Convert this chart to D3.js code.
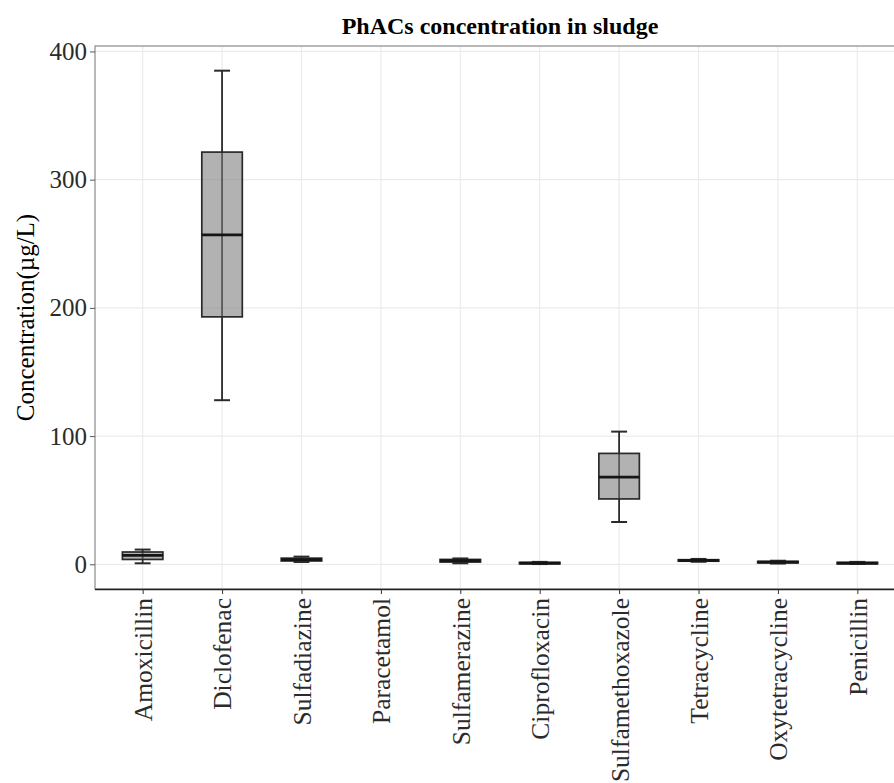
<!DOCTYPE html>
<html>
<head>
<meta charset="utf-8">
<script src="https://cdn.jsdelivr.net/npm/d3@7"></script>
<style>
  html, body { margin: 0; padding: 0; background: #fff; }
  svg { display: block; font-family: "Liberation Serif", "Times New Roman", serif; }
</style>
</head>
<body>
<svg id="chart" width="894" height="783"></svg>
<script>
// Compounds measured in sludge (Paracetamol has no measurements)
const categories = ["Amoxicillin", "Diclofenac", "Sulfadiazine", "Paracetamol", "Sulfamerazine",
                    "Ciprofloxacin", "Sulfamethoxazole", "Tetracycline", "Oxytetracycline", "Penicillin"];
// Five-number summaries, µg/L
const whiskerLow  = [0.8, 128,  1.8, null, 0.8, 0.2, 33,  2.0, 0.6, 0.3];
const quartile1   = [3.8, 193,  2.6, null, 1.8, 0.6, 51,  2.6, 1.2, 0.6];
const medians     = [7.0, 257,  3.6, null, 2.8, 1.0, 68,  3.1, 1.7, 1.0];
const quartile3   = [9.6, 321.5, 4.8, null, 3.8, 1.5, 86.5, 3.6, 2.3, 1.5];
const whiskerHigh = [11.5, 385, 6.0, null, 4.6, 1.9, 103.5, 4.2, 2.8, 1.9];
const yTicks = [0, 100, 200, 300, 400];

const svg = d3.select("#chart");
const panel = { left: 95, right: 905, top: 46, bottom: 589 };

const x = d3.scalePoint().domain(categories).range([panel.left, panel.right]).padding(0.6);
const step = x.step();
const yMax = d3.max(whiskerHigh), yMin = 0;
const pad = (yMax - yMin) * 0.05;
const y = d3.scaleLinear().domain([yMin - pad, yMax + pad]).range([panel.bottom, panel.top]);

// panel grid
const grid = svg.append("g");
grid.selectAll("line.hg").data(yTicks).join("line")
  .attr("x1", panel.left).attr("x2", panel.right)
  .attr("y1", d => y(d)).attr("y2", d => y(d))
  .attr("stroke", "#ebebeb").attr("stroke-width", 1.2);
grid.selectAll("line.vg").data(categories).join("line")
  .attr("x1", d => x(d)).attr("x2", d => x(d))
  .attr("y1", panel.top).attr("y2", panel.bottom)
  .attr("stroke", "#ebebeb").attr("stroke-width", 1.2);

// boxplots
const rows = categories.map((c, i) => ({
  c, lo: whiskerLow[i], q1: quartile1[i], med: medians[i], q3: quartile3[i], hi: whiskerHigh[i]
})).filter(d => d.med != null);

const boxW = step * 0.51;
const capW = step * 0.2;
const g = svg.append("g");
const b = g.selectAll("g.box").data(rows).join("g").attr("class", "box");

b.append("line")
  .attr("x1", d => x(d.c)).attr("x2", d => x(d.c))
  .attr("y1", d => y(d.lo)).attr("y2", d => y(d.hi))
  .attr("stroke", "#2a2a2a").attr("stroke-width", 1.8);
b.append("line")
  .attr("x1", d => x(d.c) - capW / 2).attr("x2", d => x(d.c) + capW / 2)
  .attr("y1", d => y(d.hi)).attr("y2", d => y(d.hi))
  .attr("stroke", "#2a2a2a").attr("stroke-width", 2);
b.append("line")
  .attr("x1", d => x(d.c) - capW / 2).attr("x2", d => x(d.c) + capW / 2)
  .attr("y1", d => y(d.lo)).attr("y2", d => y(d.lo))
  .attr("stroke", "#2a2a2a").attr("stroke-width", 2);
b.append("rect")
  .attr("x", d => x(d.c) - boxW / 2).attr("width", boxW)
  .attr("y", d => y(d.q3)).attr("height", d => Math.max(1.5, y(d.q1) - y(d.q3)))
  .attr("fill", "#7a7a7a").attr("fill-opacity", 0.58)
  .attr("stroke", "#2a2a2a").attr("stroke-width", 1.7);
b.append("line")
  .attr("x1", d => x(d.c) - boxW / 2).attr("x2", d => x(d.c) + boxW / 2)
  .attr("y1", d => y(d.med)).attr("y2", d => y(d.med))
  .attr("stroke", "#151515").attr("stroke-width", 2.8);

// panel border
svg.append("rect")
  .attr("x", panel.left).attr("y", panel.top)
  .attr("width", panel.right - panel.left).attr("height", panel.bottom - panel.top)
  .attr("fill", "none").attr("stroke", "#8a8a8a").attr("stroke-width", 1.2);

// y axis
const yAxis = svg.append("g").attr("transform", `translate(${panel.left},0)`)
  .call(d3.axisLeft(y).tickValues(yTicks).tickSize(5).tickPadding(3).tickFormat(d3.format("d")));
yAxis.select(".domain").remove();
yAxis.selectAll(".tick line").attr("stroke", "#555");
yAxis.selectAll(".tick text").attr("fill", "#2b2b2b").style("font-size", "25px")
  .style("font-family", "'Liberation Serif', serif");

// x axis
const xAxis = svg.append("g").attr("transform", `translate(0,${panel.bottom})`)
  .call(d3.axisBottom(x).tickSize(5).tickPadding(0));
xAxis.select(".domain").attr("d", `M${panel.left},0.5H${panel.right}`)
  .attr("stroke", "#222").attr("stroke-width", 1.6);
xAxis.selectAll(".tick line").attr("stroke", "#333");
xAxis.selectAll(".tick text")
  .attr("fill", "#2b2b2b").style("font-size", "25.5px")
  .style("font-family", "'Liberation Serif', serif")
  .attr("text-anchor", "end")
  .attr("dy", "0.35em")
  .attr("transform", "translate(0,9) rotate(-90)")
  .attr("x", 0).attr("y", 0);

// titles
svg.append("text")
  .attr("x", (panel.left + panel.right) / 2).attr("y", 34)
  .attr("text-anchor", "middle")
  .style("font-size", "24px").style("font-weight", "bold")
  .text("PhACs concentration in sludge");

svg.append("text")
  .attr("transform", `translate(34,${(panel.top + panel.bottom) / 2}) rotate(-90)`)
  .attr("text-anchor", "middle")
  .style("font-size", "25px")
  .text("Concentration(µg/L)");
</script>
</body>
</html>
